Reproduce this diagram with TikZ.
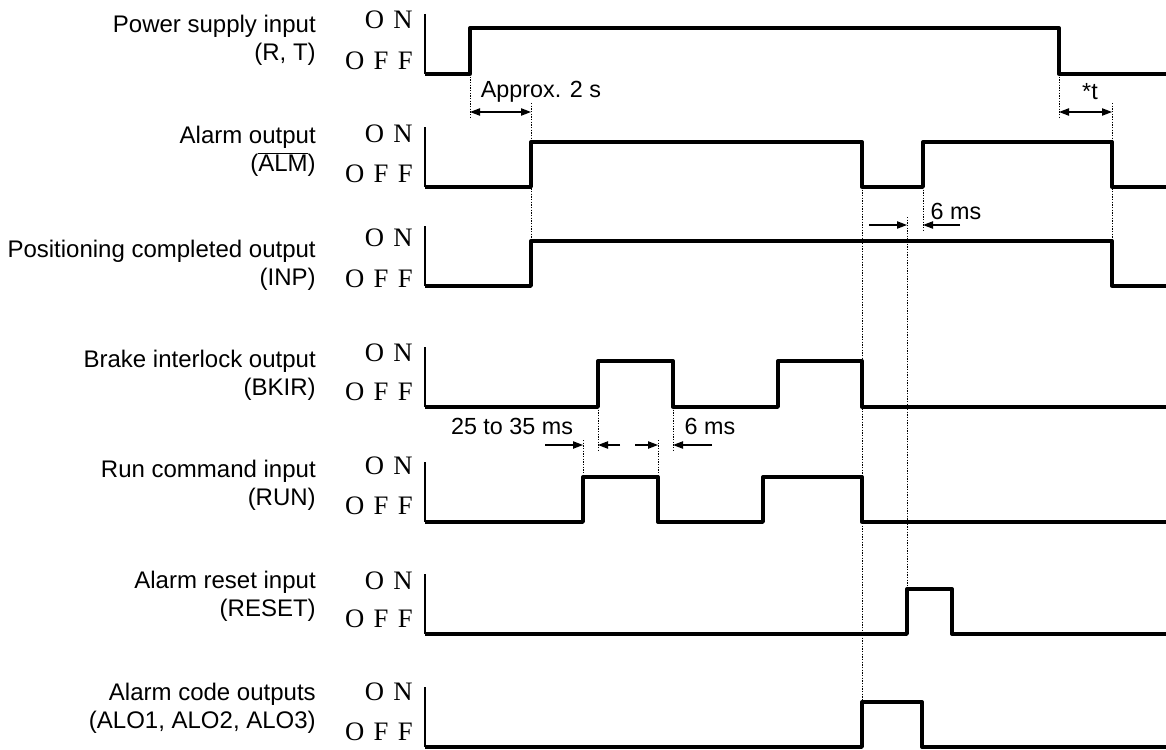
\documentclass[tikz,border=0pt]{standalone}
\usepackage{fontspec}
\setmainfont{Liberation Sans}
\newfontfamily\onofffont[WordSpace=1.4]{Liberation Serif}
\usetikzlibrary{arrows.meta}

\begin{document}
\begin{tikzpicture}[
          x=0.75pt, y=-0.75pt,
          sig/.style={line width=2.5pt, line join=round},
          axisline/.style={line width=1.2pt},
          guide/.style={line width=0.7pt, dash pattern=on 1pt off 1pt},
          dim/.style={line width=0.9pt, -{Triangle[length=7.5pt,width=5.5pt]}},
          dimboth/.style={line width=0.9pt, {Triangle[length=7.5pt,width=5.5pt]}-{Triangle[length=7.5pt,width=5.5pt]}},
          lbl/.style={font=\fontsize{18}{21}\selectfont, align=right, anchor=east, inner sep=0pt},
          onoff/.style={font=\onofffont\fontsize{20}{22}\selectfont, anchor=east, inner sep=0pt},
          note/.style={font=\fontsize{17.5}{21}\selectfont, inner sep=0pt}
      ]
        \useasboundingbox (0,0) rectangle (1166,749);

        % signal names
        \node[lbl] (pwr) at (316,40) {Power supply input\\(R, T)};
        \node[lbl] (alm) at (316,151) {Alarm output\\(\ensuremath{\overline{\mbox{ALM}}})};
        \node[lbl] (inp) at (316,265) {Positioning completed output\\(INP)};
        \node[lbl] (bkir) at (316,375) {Brake interlock output\\(BKIR)};
        \node[lbl] (run) at (316,485) {Run command input\\(RUN)};
        \node[lbl] (rst) at (316,596) {Alarm reset input\\(RESET)};
        \node[lbl] (alo) at (316,708) {Alarm code outputs\\(ALO1, ALO2, ALO3)};

        % ON / OFF levels
        \node[onoff] (pwron) at (413,20) {O N};
        \node[onoff] (pwroff) at (413,61) {O F F};
        \node[onoff] (almon) at (413,134) {O N};
        \node[onoff] (almoff) at (413,174) {O F F};
        \node[onoff] (inpon) at (413,238) {O N};
        \node[onoff] (inpoff) at (413,279) {O F F};
        \node[onoff] (bkiron) at (413,353) {O N};
        \node[onoff] (bkiroff) at (413,392) {O F F};
        \node[onoff] (runon) at (413,466) {O N};
        \node[onoff] (runoff) at (413,506) {O F F};
        \node[onoff] (rston) at (413,581) {O N};
        \node[onoff] (rstoff) at (413,619) {O F F};
        \node[onoff] (aloon) at (413,692) {O N};
        \node[onoff] (alooff) at (413,732) {O F F};

        % guide lines
        \draw[guide] (470,74) -- (470,118);
        \draw[guide] (531,103) -- (531,241);
        \draw[guide] (1059,74) -- (1059,118);
        \draw[guide] (1112,103) -- (1112,241);
        \draw[guide] (862,187) -- (862,702);
        \draw[guide] (923,187) -- (923,231);
        \draw[guide] (907,217) -- (907,589);
        \draw[guide] (583,440) -- (583,477);
        \draw[guide] (598,407) -- (598,452);
        \draw[guide] (658,440) -- (658,477);
        \draw[guide] (673,407) -- (673,452);

        % waveforms
        \draw[axisline] (425,14) -- (425,74);
        \draw[sig] (425,74) -- (470,74) -- (470,28) -- (1059,28) -- (1059,74) -- (1166,74);
        \draw[axisline] (425,127) -- (425,187);
        \draw[sig] (425,187) -- (531,187) -- (531,142) -- (862,142) -- (862,187) -- (923,187)
                   -- (923,142) -- (1112,142) -- (1112,187) -- (1166,187);
        \draw[axisline] (425,226) -- (425,286);
        \draw[sig] (425,286) -- (531,286) -- (531,241) -- (1112,241) -- (1112,286) -- (1166,286);
        \draw[axisline] (425,347) -- (425,407);
        \draw[sig] (425,407) -- (598,407) -- (598,361) -- (673,361) -- (673,407) -- (778,407)
                   -- (778,361) -- (862,361) -- (862,407) -- (1166,407);
        \draw[axisline] (425,462) -- (425,522);
        \draw[sig] (425,522) -- (583,522) -- (583,477) -- (658,477) -- (658,522) -- (763,522)
                   -- (763,477) -- (862,477) -- (862,522) -- (1166,522);
        \draw[axisline] (425,574) -- (425,634);
        \draw[sig] (425,634) -- (907,634) -- (907,589) -- (952,589) -- (952,634) -- (1166,634);
        \draw[axisline] (425,687) -- (425,747);
        \draw[sig] (425,747) -- (862,747) -- (862,702) -- (922,702) -- (922,747) -- (1166,747);

        % timings
        \draw[dimboth] (470,112) -- (531,112);
        \node[note] (approx) at (541,92) {Approx. 2 s};
        \draw[dimboth] (1059,112) -- (1112,112);
        \node[note] (tstar) at (1090,92) {*t};
        \draw[dim] (869,225) -- (907,225);
        \draw[dim] (960,225) -- (923,225);
        \node[note] (sixa) at (956,211) {6 ms};
        \draw[dim] (545,445) -- (583,445);
        \draw[dim] (620,445) -- (598,445);
        \node[note] (range) at (512,426) {25 to 35 ms};
        \draw[dim] (635,445) -- (658,445);
        \draw[dim] (712,445) -- (673,445);
        \node[note] (sixb) at (710,426) {6 ms};
      \end{tikzpicture}
\end{document}
